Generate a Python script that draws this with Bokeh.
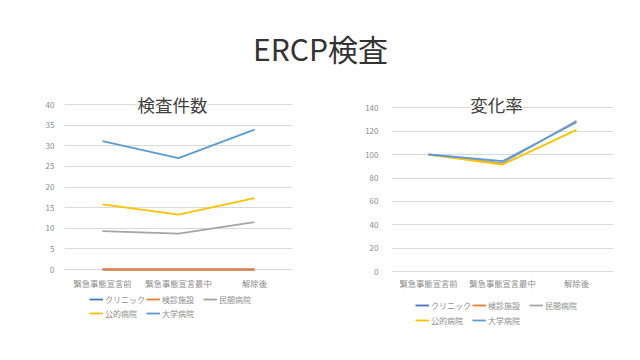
from bokeh.plotting import figure
from bokeh.models import (ColumnDataSource, FactorRange, Range1d, FixedTicker,
                          Legend, LegendItem, Label)
from bokeh.layouts import column, row
from bokeh.embed import file_html
from bokeh.resources import INLINE

FONT = "Noto Sans CJK JP"
NaN = float("nan")

categories = ["緊急事態宣言前", "緊急事態宣言最中", "解除後"]
series_names = ["クリニック", "検診施設", "民間病院", "公的病院", "大学病院"]
series_colors = ["#4472C4", "#ED7D31", "#A5A5A5", "#FFC000", "#5B9BD5"]

# 検査件数
count_clinic = [0, 0, 0]
count_kenshin = [0, 0, 0]
count_minkan = [9.3, 8.7, 11.5]
count_koteki = [15.8, 13.3, 17.3]
count_daigaku = [31.1, 27.0, 33.9]

# 変化率 (no data for クリニック / 検診施設)
rate_clinic = [NaN, NaN, NaN]
rate_kenshin = [NaN, NaN, NaN]
rate_minkan = [100, 92.6, 128.7]
rate_koteki = [100, 91.5, 121.0]
rate_daigaku = [100, 94.3, 127.5]

left_ticks = [0, 5, 10, 15, 20, 25, 30, 35, 40]
right_ticks = [0, 20, 40, 60, 80, 100, 120, 140]


def make_chart(title, series, ticks, yr, fw, borders, title_xy, y_standoff):
    p = figure(frame_width=fw, frame_height=180, x_range=FactorRange(*categories),
               y_range=Range1d(*yr), output_backend="svg", toolbar_location=None,
               min_border_left=borders[0], min_border_right=borders[1],
               min_border_top=12, min_border_bottom=20)
    p.outline_line_color = None
    p.x_range.range_padding = 0
    p.xgrid.grid_line_color = None
    p.ygrid.grid_line_color = "#D9D9D9"
    p.ygrid.grid_line_width = 1
    p.yaxis.ticker = FixedTicker(ticks=ticks)
    p.yaxis.axis_line_color = None
    p.yaxis.major_tick_line_color = None
    p.yaxis.minor_tick_line_color = None
    p.yaxis.major_label_text_font = FONT
    p.yaxis.major_label_text_font_size = "8px"
    p.yaxis.major_label_text_color = "#8C8C8C"
    p.yaxis.major_label_standoff = y_standoff
    p.xaxis.axis_line_color = None
    p.xaxis.major_tick_line_color = None
    p.xaxis.minor_tick_line_color = None
    p.xaxis.major_tick_out = 0
    p.xaxis.major_tick_in = 0
    p.xaxis.major_label_text_font = FONT
    p.xaxis.major_label_text_font_size = "8.3px"
    p.xaxis.major_label_text_color = "#8C8C8C"
    p.xaxis.major_label_standoff = 4

    for name, color, vals in zip(series_names, series_colors, series):
        src = ColumnDataSource(dict(x=categories, y=vals))
        p.line("x", "y", source=src, line_color=color, line_width=1.8)

    t = Label(x=title_xy[0], y=title_xy[1], x_units="screen", y_units="screen",
              text=title, text_font=FONT, text_font_size="17.5px",
              text_color="#404040", text_align="center", text_baseline="middle",
              background_fill_color="white")
    p.add_layout(t)
    return p


def make_legend_fig(x0, y_row1, y_row2):
    lf = figure(width=320, height=68, x_range=Range1d(0, 1), y_range=Range1d(0, 1),
                output_backend="svg", toolbar_location=None,
                x_axis_type=None, y_axis_type=None,
                min_border_left=0, min_border_right=0, min_border_top=0, min_border_bottom=0)
    lf.outline_line_color = None
    lf.grid.grid_line_color = None
    renderers = []
    for color in series_colors:
        src = ColumnDataSource(dict(x=[NaN, NaN], y=[NaN, NaN]))
        renderers.append(lf.line("x", "y", source=src, line_color=color, line_width=1.8))
    rows = [(series_names[:3], renderers[:3], y_row1), (series_names[3:], renderers[3:], y_row2)]
    for names, rs, yy in rows:
        items = [LegendItem(label=n, renderers=[r]) for n, r in zip(names, rs)]
        lg = Legend(items=items, orientation="horizontal", location=(x0, yy),
                    border_line_color=None, background_fill_alpha=0,
                    padding=0, margin=0, spacing=1,
                    glyph_width=14, glyph_height=12, label_height=12, label_width=40,
                    label_standoff=2, label_text_font=FONT,
                    label_text_font_size="8px", label_text_color="#8C8C8C")
        lf.add_layout(lg)
    return lf


p1 = make_chart("検査件数",
                [count_clinic, count_kenshin, count_minkan, count_koteki, count_daigaku],
                left_ticks, (-0.727, 42.91), 228, (64, 28), (108, 168), 4)
p2 = make_chart("変化率",
                [rate_clinic, rate_kenshin, rate_minkan, rate_koteki, rate_daigaku],
                right_ticks, (-0.43, 152.77), 222, (71, 27), (105, 168), 7)

l1 = make_legend_fig(89, 55, 41)
l2 = make_legend_fig(95, 49, 34)

header = figure(width=640, height=80, x_range=Range1d(0, 1), y_range=Range1d(0, 1),
                output_backend="svg", toolbar_location=None,
                x_axis_type=None, y_axis_type=None,
                min_border_left=0, min_border_right=0, min_border_top=0, min_border_bottom=0)
header.outline_line_color = None
header.grid.grid_line_color = None
header.add_layout(Label(x=320, y=33, x_units="screen", y_units="screen",
                        text="ERCP検査", text_font=FONT, text_font_size="30px",
                        text_color="#333333", text_align="center", text_baseline="middle"))

layout = column(header, row(p1, p2), row(l1, l2))
open("out.html", "w").write(file_html(layout, INLINE))
